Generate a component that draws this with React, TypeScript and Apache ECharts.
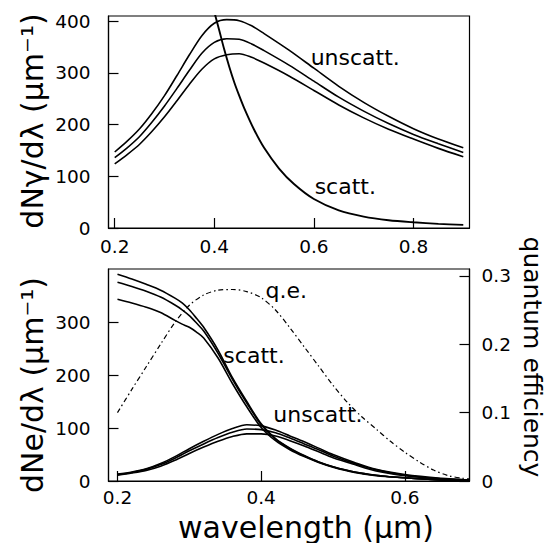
import React, { useEffect, useRef } from 'react';
import * as echarts from 'echarts';

// ---------- top panel: photon spectrum dNγ/dλ ----------
const topUnscattX = [0.2, 0.225, 0.25, 0.275, 0.3, 0.325, 0.35, 0.375, 0.4, 0.425, 0.45, 0.475, 0.5, 0.55, 0.6, 0.65, 0.7, 0.75, 0.8, 0.85, 0.9];
const topUnscatt1 = [147, 168, 192, 222, 256, 295, 335, 372, 396, 403, 401, 391, 376, 344, 309, 274, 243, 216, 192, 172, 155];
const topUnscatt2 = [136, 155, 177, 205, 236, 270, 305, 338, 359, 366, 365, 356, 343, 315, 284, 253, 226, 202, 181, 163, 146];
const topUnscatt3 = [124, 142, 162, 187, 215, 246, 278, 307, 327, 335, 337, 330, 319, 294, 266, 238, 213, 191, 172, 154, 138];
const topScattX = [0.4, 0.41, 0.42, 0.43, 0.44, 0.45, 0.46, 0.48, 0.5, 0.53, 0.56, 0.6, 0.65, 0.7, 0.75, 0.8, 0.85, 0.9];
const topScatt = [418, 382, 345, 312, 282, 256, 232, 190, 155, 115, 85, 56, 34, 22, 15, 11, 8, 6];
const topXTicks = [0.2, 0.4, 0.6, 0.8];
const topYTicks = [0, 100, 200, 300, 400];

// ---------- bottom panel: photoelectron spectrum dNe/dλ ----------
const botScattX = [0.2, 0.22, 0.24, 0.26, 0.28, 0.29, 0.3, 0.31, 0.32, 0.34, 0.36, 0.38, 0.4, 0.42, 0.44, 0.46, 0.48, 0.5, 0.53, 0.56, 0.6, 0.65, 0.69];
const botScatt1 = [390, 381, 371, 360, 345, 336, 323, 307, 290, 247, 195, 150, 108, 80, 62, 48, 36, 27, 17, 11, 6, 2, 1];
const botScatt2 = [375, 367, 358, 347, 332, 323, 312, 298, 283, 241, 192, 147, 106, 79, 61, 47, 36, 27, 17, 11, 6, 2, 1];
const botScatt3 = [343, 336, 328, 318, 303, 296, 290, 281, 270, 232, 184, 140, 101, 76, 59, 46, 35, 26, 16, 10, 6, 2, 1];
const botUnscattX = [0.2, 0.22, 0.24, 0.26, 0.28, 0.3, 0.32, 0.34, 0.36, 0.38, 0.4, 0.42, 0.44, 0.46, 0.48, 0.5, 0.53, 0.56, 0.6, 0.65, 0.69];
const botUnscatt1 = [13, 17, 23, 33, 46, 61, 75, 88, 99, 106, 104, 96, 85, 74, 62, 50, 35, 22, 12, 5, 2];
const botUnscatt2 = [12, 16, 22, 31, 43, 57, 70, 82, 92, 98, 97, 91, 81, 70, 59, 47, 33, 21, 11, 4, 2];
const botUnscatt3 = [11, 15, 20, 28, 39, 52, 64, 75, 84, 89, 89, 85, 76, 66, 55, 44, 31, 19, 10, 4, 1];
const qeX = [0.2, 0.22, 0.24, 0.26, 0.28, 0.3, 0.32, 0.34, 0.36, 0.38, 0.4, 0.42, 0.44, 0.46, 0.48, 0.5, 0.52, 0.54, 0.56, 0.58, 0.6, 0.62, 0.64, 0.66, 0.68, 0.69];
const qe = [0.1, 0.134, 0.167, 0.2, 0.232, 0.257, 0.272, 0.279, 0.28, 0.277, 0.268, 0.25, 0.224, 0.196, 0.168, 0.14, 0.115, 0.094, 0.076, 0.058, 0.042, 0.028, 0.016, 0.008, 0.004, 0.003];
const botXTicks = [0.2, 0.4, 0.6];
const botYTicks = [0, 100, 200, 300];
const qeTicks = [0, 0.1, 0.2, 0.3];

// curve labels (data coordinates)
const topLabels = [
  { text: 'unscatt.', x: 0.683, y: 330 },
  { text: 'scatt.', x: 0.663, y: 81 },
];
const botLabels = [
  { text: 'q.e.', x: 0.435, y: 360 },
  { text: 'scatt.', x: 0.39, y: 236 },
  { text: 'unscatt.', x: 0.479, y: 125 },
];

const zip = (xs: number[], ys: number[]) => xs.map((x, i) => [x, ys[i]]);

const FONT = 'DejaVu Sans';
const tickLabel = { color: '#000', fontFamily: FONT, fontSize: 18.5 };

function line(data: number[][], xi: number, yi: number, extra: any = {}) {
  return {
    type: 'line',
    xAxisIndex: xi,
    yAxisIndex: yi,
    data,
    showSymbol: false,
    symbol: 'none',
    smooth: 0.3,
    lineStyle: { color: '#000', width: 1.6 },
    silent: true,
    ...extra,
  };
}

function labelSeries(items: { text: string; x: number; y: number }[], xi: number, yi: number) {
  return {
    type: 'scatter',
    xAxisIndex: xi,
    yAxisIndex: yi,
    symbolSize: 1,
    itemStyle: { color: 'rgba(0,0,0,0)', opacity: 1 },
    silent: true,
    data: items.map((d) => ({ value: [d.x, d.y], name: d.text })),
    label: {
      show: true,
      position: 'inside',
      formatter: (p: any) => p.name,
      color: '#000',
      opacity: 1,
      textBorderWidth: 0,
      textBorderColor: 'transparent',
      fontFamily: FONT,
      fontSize: 22,
    },
  };
}

const axisCommon = {
  type: 'value',
  splitLine: { show: false },
  axisLine: { show: true, lineStyle: { color: '#000', width: 1.2 } },
  axisTick: { show: true, inside: true, length: 10, lineStyle: { color: '#000', width: 1.2 } },
};

const option: any = {
  animation: false,
  backgroundColor: '#fff',
  grid: [
    { left: 108.5, top: 16, width: 361, height: 212, show: true, borderColor: '#000', borderWidth: 1.2, backgroundColor: 'transparent' },
    { left: 108.5, top: 269, width: 361, height: 212, show: true, borderColor: '#000', borderWidth: 1.2, backgroundColor: 'transparent' },
  ],
  xAxis: [
    {
      ...axisCommon,
      gridIndex: 0,
      min: 0.1875,
      max: 0.9125,
      axisTick: { ...axisCommon.axisTick, customValues: topXTicks },
      axisLabel: { ...tickLabel, margin: 9, customValues: topXTicks, formatter: (v: number) => String(v) },
    },
    {
      ...axisCommon,
      gridIndex: 1,
      min: 0.1875,
      max: 0.69,
      axisTick: { ...axisCommon.axisTick, customValues: botXTicks },
      axisLabel: { ...tickLabel, margin: 7, customValues: botXTicks, formatter: (v: number) => String(v) },
    },
  ],
  yAxis: [
    {
      ...axisCommon,
      gridIndex: 0,
      min: 0,
      max: 410,
      axisTick: { ...axisCommon.axisTick, customValues: topYTicks },
      axisLabel: { ...tickLabel, margin: 18, customValues: topYTicks },
    },
    {
      ...axisCommon,
      gridIndex: 1,
      min: 0,
      max: 400,
      axisTick: { ...axisCommon.axisTick, customValues: botYTicks },
      axisLabel: { ...tickLabel, margin: 18, customValues: botYTicks },
    },
    {
      ...axisCommon,
      gridIndex: 1,
      position: 'right',
      min: 0,
      max: 0.31,
      axisTick: { ...axisCommon.axisTick, customValues: qeTicks },
      axisLabel: { ...tickLabel, margin: 12, customValues: qeTicks, formatter: (v: number) => String(v) },
    },
  ],
  graphic: [
    {
      type: 'text', x: 32, y: 121, rotation: Math.PI / 2, silent: true,
      style: { text: 'dNγ/dλ (μm⁻¹)', fontFamily: FONT, fontSize: 30, fill: '#000', align: 'center', verticalAlign: 'middle' },
    },
    {
      type: 'text', x: 32, y: 385, rotation: Math.PI / 2, silent: true,
      style: { text: 'dNe/dλ (μm⁻¹)', fontFamily: FONT, fontSize: 30, fill: '#000', align: 'center', verticalAlign: 'middle' },
    },
    {
      type: 'text', x: 532, y: 357, rotation: -Math.PI / 2, silent: true,
      style: { text: 'quantum efficiency', fontFamily: FONT, fontSize: 25, fill: '#000', align: 'center', verticalAlign: 'middle' },
    },
    {
      type: 'text', x: 306, y: 527, silent: true,
      style: { text: 'wavelength (μm)', fontFamily: FONT, fontSize: 30, fill: '#000', align: 'center', verticalAlign: 'middle' },
    },
  ],
  series: [
    line(zip(topUnscattX, topUnscatt1), 0, 0),
    line(zip(topUnscattX, topUnscatt2), 0, 0),
    line(zip(topUnscattX, topUnscatt3), 0, 0),
    line(zip(topScattX, topScatt), 0, 0, { lineStyle: { color: '#000', width: 1.9 } }),
    line(zip(botScattX, botScatt1), 1, 1),
    line(zip(botScattX, botScatt2), 1, 1),
    line(zip(botScattX, botScatt3), 1, 1),
    line(zip(botUnscattX, botUnscatt1), 1, 1),
    line(zip(botUnscattX, botUnscatt2), 1, 1),
    line(zip(botUnscattX, botUnscatt3), 1, 1),
    line(zip(qeX, qe), 1, 2, { lineStyle: { color: '#000', width: 1.2, type: [5, 3, 1.5, 3] } }),
    labelSeries(topLabels, 0, 0),
    labelSeries(botLabels, 1, 1),
  ],
};

export default function App() {
  const ref = useRef<HTMLDivElement>(null);
  useEffect(() => {
    document.body.style.margin = '0';
    const chart = echarts.init(ref.current!, null, { renderer: 'svg' });
    chart.setOption(option);
    return () => chart.dispose();
  }, []);
  return <div ref={ref} style={{ width: 546, height: 543 }} />;
}
